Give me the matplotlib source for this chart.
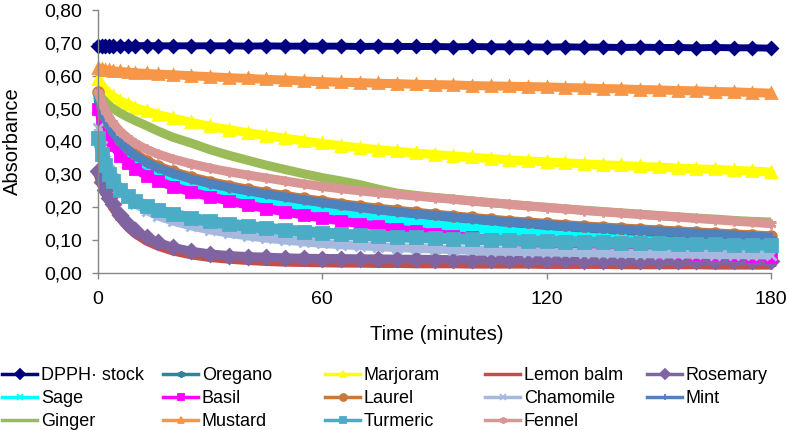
import matplotlib
matplotlib.use("Agg")
import matplotlib.pyplot as plt
from matplotlib.lines import Line2D
from matplotlib.ticker import FuncFormatter

plt.rcParams['font.family'] = ['Liberation Sans', 'DejaVu Sans']

# Time points (minutes) and absorbance
time_min = [0, 1, 2, 3, 4, 6, 8, 10, 13, 16, 20, 25, 30,
            35, 40, 45, 50, 55, 60, 65, 70, 75, 80,
            85, 90, 95, 100, 105, 110, 115, 120, 125, 130,
            135, 140, 145, 150, 155, 160, 165, 170, 175, 180]

dpph = [0.692, 0.691, 0.692, 0.691, 0.692, 0.691, 0.692, 0.691, 0.692, 0.691, 0.691, 0.691, 0.691,
        0.691, 0.690, 0.691, 0.690, 0.690, 0.690, 0.690, 0.689, 0.690, 0.689,
        0.689, 0.689, 0.688, 0.689, 0.688, 0.688, 0.688, 0.687, 0.688, 0.687,
        0.687, 0.686, 0.687, 0.686, 0.686, 0.685, 0.686, 0.685, 0.685, 0.684]
oregano = [0.530, 0.488, 0.457, 0.433, 0.414, 0.384, 0.361, 0.343, 0.322, 0.306, 0.289, 0.272, 0.258,
           0.246, 0.235, 0.225, 0.216, 0.207, 0.199, 0.191, 0.184, 0.177, 0.171,
           0.165, 0.159, 0.154, 0.149, 0.144, 0.139, 0.135, 0.131, 0.127, 0.123,
           0.119, 0.116, 0.113, 0.110, 0.107, 0.104, 0.101, 0.098, 0.095, 0.092]
marjoram = [0.590, 0.570, 0.556, 0.545, 0.537, 0.524, 0.513, 0.503, 0.492, 0.482, 0.471, 0.458, 0.446,
            0.436, 0.427, 0.418, 0.410, 0.402, 0.394, 0.387, 0.381, 0.375, 0.370,
            0.365, 0.360, 0.356, 0.352, 0.348, 0.344, 0.341, 0.338, 0.335, 0.332,
            0.329, 0.327, 0.324, 0.322, 0.319, 0.317, 0.315, 0.312, 0.310, 0.307]
lemon_balm = [0.300, 0.268, 0.241, 0.218, 0.198, 0.165, 0.139, 0.119, 0.097, 0.082, 0.067, 0.055, 0.047,
              0.042, 0.038, 0.035, 0.033, 0.032, 0.031, 0.030, 0.030, 0.029, 0.029,
              0.028, 0.028, 0.028, 0.027, 0.027, 0.027, 0.027, 0.026, 0.026, 0.026,
              0.026, 0.025, 0.025, 0.025, 0.025, 0.025, 0.024, 0.024, 0.024, 0.024]
rosemary = [0.310, 0.278, 0.252, 0.229, 0.209, 0.176, 0.150, 0.130, 0.108, 0.093, 0.078, 0.066, 0.058,
            0.053, 0.050, 0.048, 0.046, 0.045, 0.044, 0.044, 0.043, 0.043, 0.042,
            0.042, 0.041, 0.041, 0.040, 0.040, 0.040, 0.039, 0.039, 0.039, 0.038,
            0.038, 0.038, 0.037, 0.037, 0.037, 0.036, 0.036, 0.036, 0.035, 0.035]
sage = [0.520, 0.478, 0.447, 0.423, 0.404, 0.374, 0.351, 0.333, 0.312, 0.296, 0.279, 0.262, 0.248,
        0.236, 0.225, 0.214, 0.205, 0.196, 0.188, 0.180, 0.172, 0.165, 0.159,
        0.153, 0.147, 0.141, 0.136, 0.131, 0.126, 0.122, 0.117, 0.113, 0.109,
        0.106, 0.102, 0.099, 0.096, 0.093, 0.090, 0.087, 0.085, 0.082, 0.080]
basil = [0.500, 0.462, 0.432, 0.408, 0.388, 0.357, 0.334, 0.316, 0.296, 0.280, 0.263, 0.246, 0.232,
         0.219, 0.207, 0.196, 0.186, 0.176, 0.167, 0.158, 0.150, 0.142, 0.134,
         0.127, 0.120, 0.114, 0.108, 0.102, 0.097, 0.092, 0.087, 0.083, 0.079,
         0.075, 0.071, 0.068, 0.065, 0.062, 0.059, 0.057, 0.054, 0.052, 0.050]
laurel = [0.550, 0.508, 0.477, 0.453, 0.434, 0.404, 0.381, 0.363, 0.342, 0.326, 0.309, 0.292, 0.278,
          0.266, 0.255, 0.245, 0.236, 0.227, 0.219, 0.211, 0.204, 0.197, 0.191,
          0.185, 0.179, 0.174, 0.169, 0.164, 0.159, 0.155, 0.151, 0.147, 0.143,
          0.140, 0.137, 0.134, 0.131, 0.128, 0.125, 0.122, 0.119, 0.116, 0.113]
chamomile = [0.440, 0.385, 0.345, 0.313, 0.289, 0.255, 0.230, 0.211, 0.190, 0.174, 0.158, 0.143, 0.131,
             0.121, 0.113, 0.106, 0.100, 0.095, 0.090, 0.086, 0.083, 0.080, 0.077,
             0.075, 0.073, 0.071, 0.069, 0.068, 0.066, 0.065, 0.064, 0.063, 0.062,
             0.061, 0.060, 0.059, 0.058, 0.058, 0.057, 0.056, 0.056, 0.055, 0.055]
mint = [0.540, 0.500, 0.470, 0.447, 0.428, 0.398, 0.375, 0.357, 0.336, 0.320, 0.303, 0.286, 0.272,
        0.260, 0.250, 0.240, 0.231, 0.222, 0.214, 0.206, 0.199, 0.192, 0.186,
        0.180, 0.175, 0.170, 0.165, 0.160, 0.155, 0.151, 0.147, 0.143, 0.139,
        0.136, 0.133, 0.130, 0.127, 0.124, 0.121, 0.118, 0.115, 0.112, 0.109]
ginger = [0.550, 0.532, 0.519, 0.509, 0.500, 0.486, 0.474, 0.463, 0.448, 0.432, 0.413, 0.395, 0.375,
          0.358, 0.343, 0.328, 0.315, 0.302, 0.290, 0.280, 0.269, 0.255, 0.243,
          0.236, 0.230, 0.225, 0.219, 0.214, 0.209, 0.204, 0.200, 0.195, 0.191,
          0.187, 0.183, 0.179, 0.175, 0.171, 0.167, 0.164, 0.160, 0.157, 0.155]
mustard = [0.625, 0.621, 0.618, 0.616, 0.615, 0.613, 0.611, 0.609, 0.607, 0.605, 0.603, 0.600, 0.597,
           0.594, 0.592, 0.589, 0.587, 0.584, 0.582, 0.580, 0.579, 0.577, 0.576,
           0.574, 0.573, 0.572, 0.570, 0.569, 0.568, 0.567, 0.566, 0.564, 0.563,
           0.561, 0.560, 0.558, 0.557, 0.555, 0.554, 0.552, 0.551, 0.549, 0.547]
turmeric = [0.410, 0.362, 0.327, 0.300, 0.280, 0.252, 0.233, 0.219, 0.203, 0.191, 0.179, 0.167, 0.157,
            0.149, 0.142, 0.136, 0.131, 0.126, 0.122, 0.118, 0.115, 0.112, 0.110,
            0.108, 0.106, 0.104, 0.102, 0.100, 0.099, 0.097, 0.096, 0.095, 0.094,
            0.093, 0.092, 0.091, 0.090, 0.089, 0.088, 0.087, 0.086, 0.085, 0.085]
fennel = [0.550, 0.518, 0.493, 0.473, 0.456, 0.430, 0.410, 0.394, 0.376, 0.362, 0.347, 0.332, 0.319,
          0.308, 0.298, 0.289, 0.280, 0.271, 0.263, 0.256, 0.250, 0.244, 0.239,
          0.234, 0.229, 0.224, 0.219, 0.214, 0.209, 0.204, 0.199, 0.195, 0.190,
          0.186, 0.182, 0.178, 0.174, 0.170, 0.166, 0.162, 0.158, 0.154, 0.150]

names = ["DPPH\u00b7 stock", "Oregano", "Marjoram", "Lemon balm", "Rosemary",
         "Sage", "Basil", "Laurel", "Chamomile", "Mint",
         "Ginger", "Mustard", "Turmeric", "Fennel"]
series = [dpph, oregano, marjoram, lemon_balm, rosemary,
          sage, basil, laurel, chamomile, mint,
          ginger, mustard, turmeric, fennel]
colors = ["#000080", "#31849B", "#FFFF00", "#C0504D", "#8064A2",
          "#00FFFF", "#FF00FF", "#C8783A", "#A6B8DD", "#4F81BD",
          "#9BBB59", "#F79646", "#4BACC6", "#D99694"]
asterisk = (6, 2, 0)
markers = ["D", asterisk, "^", "_", "D",
           "x", "s", "o", "x", "+",
           "_", "^", "s", asterisk]
y_ticks = [0.0, 0.1, 0.2, 0.3, 0.4, 0.5, 0.6, 0.7, 0.8]
x_ticks = [0, 60, 120, 180]

W, H = 788, 430
fig = plt.figure(figsize=(W / 100, H / 100), dpi=100)
ax = fig.add_axes([98 / W, 1 - 273 / H, 673 / W, 263 / H])

for name, ys, c, m in zip(names, series, colors, markers):
    lw, ms = 6.5, 7
    if name.startswith("DPPH"):
        lw, ms = 5, 6
    if name == "Turmeric":
        lw, ms = 8, 9
    ax.plot(time_min, ys, color=c, lw=lw, marker=m, ms=ms, mfc=c, mec=c,
            mew=2, solid_capstyle="butt", clip_on=False)

ax.set_xlim(0, 180)
ax.set_ylim(0, 0.8)
ax.set_xticks(x_ticks)
ax.set_yticks(y_ticks)
ax.yaxis.set_major_formatter(FuncFormatter(lambda v, _: f"{v:.2f}".replace(".", ",")))
for side in ["top", "right"]:
    ax.spines[side].set_visible(False)
for side in ["left", "bottom"]:
    ax.spines[side].set_color("#868686")
    ax.spines[side].set_linewidth(1)
ax.tick_params(axis="both", direction="out", length=4, width=1, color="#868686",
               labelsize=14, labelcolor="black")
ax.tick_params(axis="x", pad=9)
ax.tick_params(axis="y", pad=7.5)

fig.text(12.5 / W, 1 - 141 / H, "Absorbance", rotation=90, ha="center", va="center", fontsize=14.5)
fig.text(437 / W, 1 - 335 / H, "Time (minutes)", ha="center", va="center", fontsize=14.5)

# legend: five columns, row-major order like the original
col_x = [2, 163, 325, 485, 647]
for col, x0 in enumerate(col_x):
    idx = list(range(col, len(names), 5))
    handles = []
    for i in idx:
        m = markers[i]
        ms = 5
        if m == "_":
            ms = 0
        handles.append(Line2D([], [], color=colors[i], lw=2.5, marker=m, ms=ms,
                              mfc=colors[i], mec=colors[i], mew=1.3))
    fig.legend(handles, [names[i] for i in idx], loc="upper left",
               bbox_to_anchor=(x0 / W, 1 - 367 / H), frameon=False,
               fontsize=13, handlelength=1.95, handletextpad=0.2,
               labelspacing=0.34, borderpad=0, borderaxespad=0)

fig.savefig("out.png", dpi=100)
